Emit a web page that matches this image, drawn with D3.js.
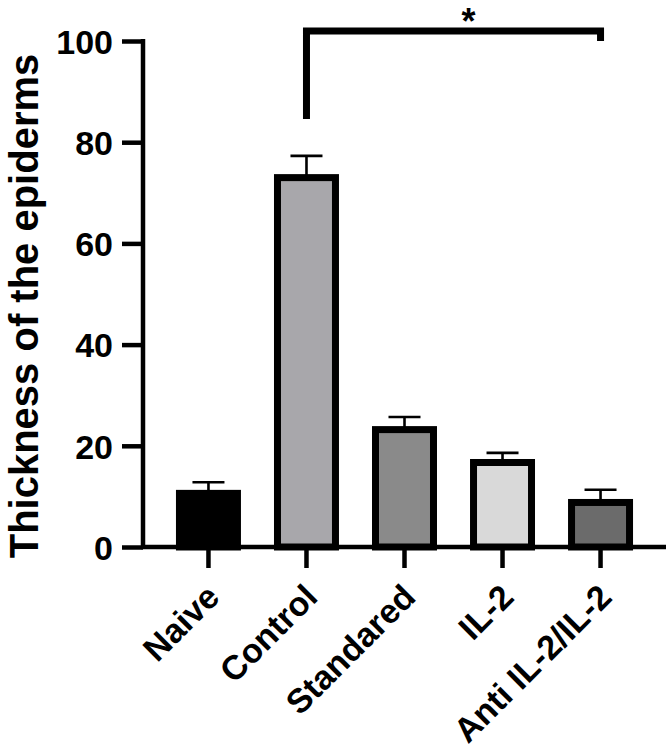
<!DOCTYPE html>
<html>
<head>
<meta charset="utf-8">
<script src="https://d3js.org/d3.v7.min.js"></script>
<style>
  body { margin: 0; background: #fff; }
  svg text { font-family: "Liberation Sans", Arial, Helvetica, sans-serif; font-weight: bold; }
</style>
</head>
<body>
<div id="chart"></div>
<script>
// data
var groups = ["Naive", "Control", "Standared", "IL-2", "Anti IL-2/IL-2"];
var means = [10.6, 73.0, 23.2, 16.7, 8.8];
var errors = [2.2, 4.3, 2.5, 1.9, 2.5];
var fills = ["#000000", "#a8a7ab", "#8a8a8a", "#d9d9d9", "#6b6b6b"];
var yTicks = [0, 20, 40, 60, 80, 100];
var yTitle = "Thickness of the epiderms";

var width = 669, height = 751;

var svg = d3.select("#chart").append("svg")
  .attr("width", width)
  .attr("height", height);

var y = d3.scaleLinear().domain([0, 100]).range([547, 41]);

var x = d3.scaleBand()
  .domain(groups)
  .range([159.5, 649.5])
  .paddingInner(0.337)
  .paddingOuter(0.168);

var bw = 7; // bar border

// error bars (drawn first, the bar border covers the start)
var eb = svg.append("g").attr("stroke", "#000").attr("stroke-width", 2.6);
groups.forEach(function(g, i) {
  var cx = x(g) + x.bandwidth() / 2;
  eb.append("line")
    .attr("x1", cx).attr("x2", cx)
    .attr("y1", y(means[i])).attr("y2", y(means[i] + errors[i]));
  eb.append("line")
    .attr("x1", cx - 16).attr("x2", cx + 16)
    .attr("y1", y(means[i] + errors[i])).attr("y2", y(means[i] + errors[i]));
});

// bars
svg.append("g").selectAll("rect")
  .data(groups)
  .enter().append("rect")
  .attr("x", function(d) { return x(d) + bw / 2; })
  .attr("width", x.bandwidth() - bw)
  .attr("y", function(d, i) { return y(means[i]); })
  .attr("height", function(d, i) { return y(0) - y(means[i]); })
  .attr("fill", function(d, i) { return fills[i]; })
  .attr("stroke", "#000")
  .attr("stroke-width", bw);

// y axis
var yAxis = svg.append("g")
  .attr("transform", "translate(143,0)")
  .call(d3.axisLeft(y).tickValues(yTicks).tickSize(21).tickPadding(9).tickSizeOuter(0));
yAxis.select(".domain").attr("stroke-width", 4.5).attr("d", "M0," + (y(0) + 2) + "V" + (y(100) - 2));
yAxis.selectAll(".tick line").attr("stroke-width", 4.5);
yAxis.selectAll(".tick text").attr("font-size", 34).attr("fill", "#000").attr("dy", "0.36em");

// x axis
var xAxis = svg.append("g")
  .attr("transform", "translate(0," + y(0) + ")")
  .call(d3.axisBottom(x).tickSize(21).tickSizeOuter(0));
xAxis.select(".domain").attr("stroke-width", 4.5).attr("d", "M141,0H666");
xAxis.selectAll(".tick line").attr("stroke-width", 4.5);
xAxis.selectAll(".tick text")
  .attr("font-size", 34)
  .attr("fill", "#000")
  .attr("text-anchor", "end")
  .attr("dy", 0)
  .attr("y", 0)
  .attr("transform", "translate(13,52) rotate(-45)");

// y title
svg.append("text")
  .attr("transform", "translate(38," + 306 + ") rotate(-90)")
  .attr("text-anchor", "middle")
  .attr("font-size", 40)
  .text(yTitle);

// significance bracket Control vs Anti IL-2/IL-2
var bx1 = x("Control") + x.bandwidth() / 2;
var bx2 = x("Anti IL-2/IL-2") + x.bandwidth() / 2;
var bTop = y(102);
svg.append("path")
  .attr("d", "M" + bx1 + "," + y(84.6) + "V" + bTop + "H" + bx2 + "V" + y(100))
  .attr("fill", "none")
  .attr("stroke", "#000")
  .attr("stroke-width", 7);
svg.append("text")
  .attr("x", (bx1 + bx2) / 2 + 15)
  .attr("y", 34)
  .attr("text-anchor", "middle")
  .attr("font-size", 36)
  .text("*");
</script>
</body>
</html>
